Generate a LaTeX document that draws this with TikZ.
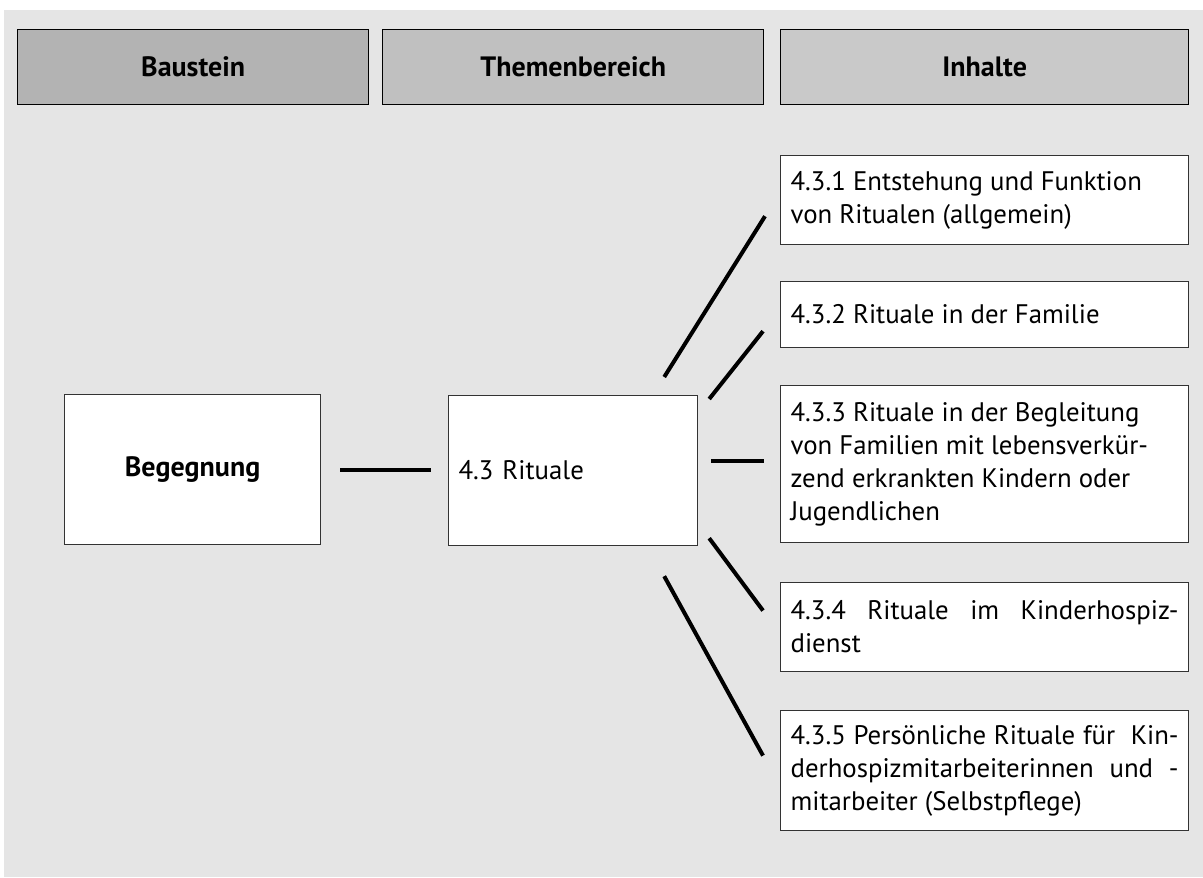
\documentclass[tikz,border=0pt]{standalone}
\usepackage{fontspec}
\setmainfont{PT Sans}
\usetikzlibrary{positioning}
\definecolor{bggray}{HTML}{E5E5E5}
\definecolor{headA}{HTML}{B3B3B3}
\definecolor{headB}{HTML}{C0C0C0}
\definecolor{headC}{HTML}{C9C9C9}
\begin{document}
\begin{tikzpicture}[x=0.5pt,y=-0.5pt,
  head/.style={draw,line width=0.7pt,anchor=north west,minimum height=37.5pt,inner sep=0pt,font=\fontsize{14}{16}\selectfont\bfseries},
  box/.style={draw=black!80,line width=0.6pt,fill=white,anchor=north west,inner ysep=0pt,inner xsep=5pt},
  inhalt/.style={box,text width=194pt,align=justify,font=\fontsize{13.4}{16.5}\selectfont},
  link/.style={line width=2pt}]
  \useasboundingbox (0,0) rectangle (1203,877);
  \fill[bggray] (4,10) rectangle (1203,877);
  \node[head,fill=headA,minimum width=175.5pt](bau) at (17,29) {Baustein};
  \node[head,fill=headB,minimum width=190.5pt](thema) at (382,29) {Themenbereich};
  \node[head,fill=headC,minimum width=204pt](inh) at (780,29) {Inhalte};
  \node[box,minimum width=128pt,minimum height=75pt,font=\fontsize{14}{16}\selectfont\bfseries](beg) at (64,394) {Begegnung};
  \node[box,text width=114.5pt,minimum height=75pt,align=left,font=\fontsize{13.4}{16.5}\selectfont](rit) at (448,395) {4.3 Rituale};
  \node[inhalt,minimum height=44.5pt](i1) at (780,155) {4.3.1 Entstehung und Funktion\\von Ritualen (allgemein)};
  \node[inhalt,minimum height=33pt](i2) at (780,281) {4.3.2 Rituale in der Familie};
  \node[inhalt,minimum height=78.5pt](i3) at (780,385) {4.3.3 Rituale in der Begleitung\\von Familien mit lebensverkür-\\zend erkrankten Kindern oder\\Jugendlichen};
  \node[inhalt,minimum height=44.5pt](i4) at (780,582) {4.3.4 Rituale im Kinderhospiz-\linebreak dienst};
  \node[inhalt,minimum height=60pt](i5) at (780,710) {4.3.5 Persönliche Rituale für~ Kin-\linebreak derhospizmitarbeiterinnen und -\linebreak mitarbeiter (Selbstpflege)};
  \draw[link,shorten <=9.5pt,shorten >=8.5pt] (beg.east) -- (beg.east -| rit.west);
  \draw[link] ([shift={(-34,-18)}]rit.north east) -- ([shift={(-15,-29)}]i1.south west);
  \draw[link] ([shift={(11,4)}]rit.north east) -- ([shift={(-17,-17)}]i2.south west);
  \draw[link] ([shift={(13,-10)}]rit.east) -- ([shift={(-16,-3.5)}]i3.west);
  \draw[link] ([shift={(11,-8)}]rit.south east) -- ([shift={(-17,-16.5)}]i4.west);
  \draw[link] ([shift={(-34,30)}]rit.south east) -- ([shift={(-17,-15)}]i5.west);
\end{tikzpicture}
\end{document}
